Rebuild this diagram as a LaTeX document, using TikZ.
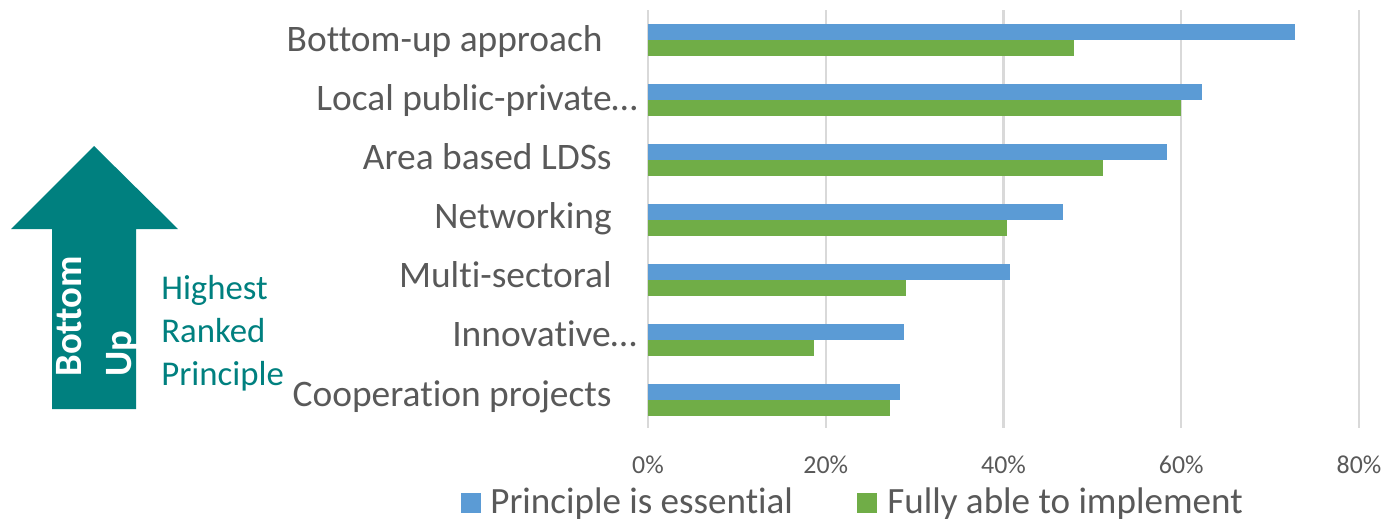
\documentclass[tikz,border=0pt]{standalone}
\usepackage{fontspec}
\setmainfont[Ligatures={NoCommon}]{Carlito}
\usepackage{tikz}

\definecolor{essblue}{HTML}{5B9BD5}
\definecolor{impgreen}{HTML}{70AD47}
\definecolor{lightgrid}{HTML}{D9D9D9}
\definecolor{labgray}{HTML}{595959}
\definecolor{arrowteal}{HTML}{00807F}

\tikzset{
    catlabel/.style={anchor=base east,inner sep=0pt,text=labgray,font=\fontsize{21.3}{25}\selectfont},
    ticklabel/.style={anchor=base,inner sep=0pt,text=labgray,font=\fontsize{14.7}{17}\selectfont},
    legtext/.style={anchor=base west,inner sep=0pt,text=labgray,font=\fontsize{21.1}{25}\selectfont},
    legkey/.style={minimum size=0.4cm,inner sep=0pt,draw=none},
    gridline/.style={lightgrid,line width=1.2pt}
}

\begin{document}
\begin{tikzpicture}[x=0.02cm,y=-0.02cm]
                \useasboundingbox (0,0) rectangle (1385,521);
                % arrow on the left
                \fill[arrowteal] (94,146) -- (178,229) -- (136,229) -- (136,409) -- (52,409) -- (52,229) -- (11,229) -- cycle;
                \node[rotate=90,anchor=north west,align=left,inner sep=0pt,text=white,font=\bfseries\fontsize{22}{28.3}\selectfont] (bottomup) at (56,377) {Bottom\\Up};
                \node[anchor=north west,align=left,inner sep=0pt,text=arrowteal,font=\fontsize{19.8}{24.4}\selectfont] (ranked) at (161,275) {Highest\\Ranked\\Principle};
                % grid
                \foreach \k/\t in {0/0\%,1/20\%,2/40\%,3/60\%,4/80\%}{
                    \draw[gridline] (648+177.75*\k,10) -- (648+177.75*\k,428);
                    \node[ticklabel] (tick\k) at (648+177.75*\k,473) {\t};
                }
                % bars and labels
                \foreach \i/\b/\g/\xl/\lab in {
                    0/1295/1074/603/Bottom-up approach,
                    1/1202/1181/638/Local public-private…,
                    2/1167/1103/612/Area based LDSs,
                    3/1063/1007/612/Networking,
                    4/1010/906/612/Multi-sectoral,
                    5/904/814/637/Innovative…,
                    6/900/890/612/Cooperation projects}{
                    \fill[essblue] (648,24+60*\i) rectangle (\b,40+60*\i);
                    \fill[impgreen] (648,40+60*\i) rectangle (\g,56+60*\i);
                    \node[catlabel] (cat\i) at (\xl,51.7+59.05*\i) {\lab};
                }
                % legend
                \node[legkey,fill=essblue] (keyess) at (471,503) {};
                \node[legtext] (txtess) at (490,513) {Principle is essential};
                \node[legkey,fill=impgreen] (keyimp) at (867,503) {};
                \node[legtext] (txtimp) at (887,513) {Fully able to implement};
            \end{tikzpicture}
\end{document}
